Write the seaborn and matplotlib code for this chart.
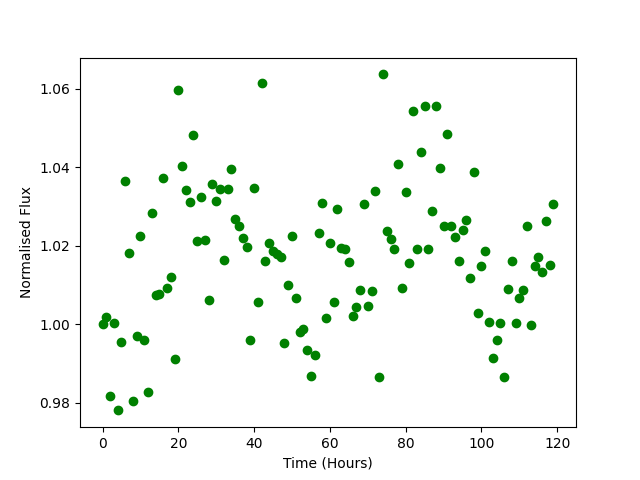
import numpy as np
import matplotlib
matplotlib.use("Agg")
import matplotlib.pyplot as plt
import seaborn as sns

# one reading per hour
hours = np.arange(120)

flux = [
    1.0000, 1.0019, 0.9818, 1.0004, 0.9781, 0.9955, 1.0366, 1.0181, 0.9804, 0.9971,
    1.0225, 0.9960, 0.9827, 1.0283, 1.0075, 1.0078, 1.0372, 1.0092, 1.0121, 0.9912,
    1.0597, 1.0403, 1.0342, 1.0312, 1.0483, 1.0213, 1.0324, 1.0214, 1.0062, 1.0357,
    1.0315, 1.0344, 1.0163, 1.0344, 1.0395, 1.0269, 1.0250, 1.0220, 1.0197, 0.9961,
    1.0348, 1.0056, 1.0614, 1.0162, 1.0207, 1.0186, 1.0179, 1.0172, 0.9953, 1.0101,
    1.0225, 1.0067, 0.9981, 0.9989, 0.9935, 0.9868, 0.9921, 1.0232, 1.0309, 1.0016,
    1.0207, 1.0056, 1.0294, 1.0194, 1.0192, 1.0158, 1.0021, 1.0044, 1.0087, 1.0306,
    1.0047, 1.0085, 1.0340, 0.9866, 1.0637, 1.0238, 1.0217, 1.0192, 1.0408, 1.0092,
    1.0338, 1.0156, 1.0543, 1.0192, 1.0439, 1.0556, 1.0192, 1.0288, 1.0556, 1.0398,
    1.0250, 1.0485, 1.0250, 1.0222, 1.0161, 1.0240, 1.0266, 1.0118, 1.0388, 1.0029,
    1.0148, 1.0187, 1.0006, 0.9914, 0.9960, 1.0004, 0.9865, 1.0090, 1.0161, 1.0004,
    1.0068, 1.0087, 1.0250, 0.9999, 1.0148, 1.0171, 1.0133, 1.0263, 1.0151, 1.0306,
]

fig, ax = plt.subplots(figsize=(6.4, 4.8), dpi=100)
sns.scatterplot(x=hours, y=flux, color="green", s=36, linewidth=1,
                edgecolor="green", ax=ax)
ax.set_xlabel("Time (Hours)")
ax.set_ylabel("Normalised Flux")
ax.set_xticks([0, 20, 40, 60, 80, 100, 120])
ax.set_yticks([0.98, 1.00, 1.02, 1.04, 1.06])
ax.set_yticklabels(["0.98", "1.00", "1.02", "1.04", "1.06"])
fig.savefig("out.png", dpi=100)
